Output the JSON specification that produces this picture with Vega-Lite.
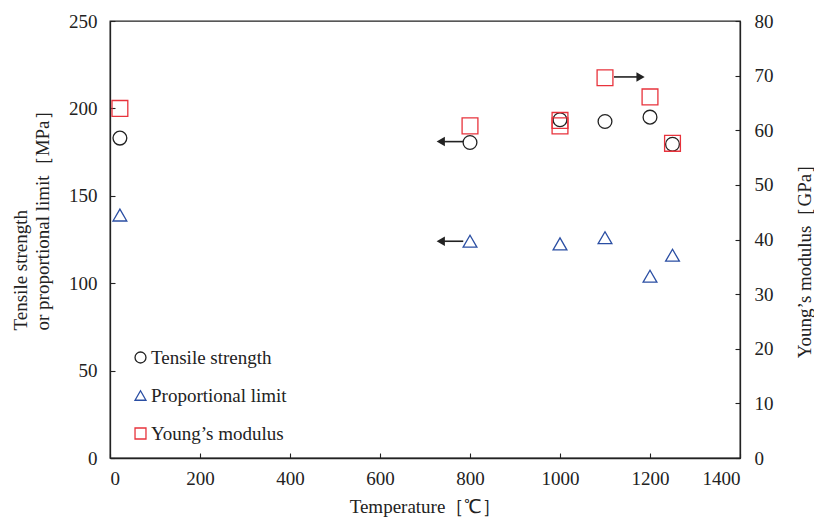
{
  "$schema": "https://vega.github.io/schema/vega-lite/v6.json",
  "width": 630,
  "height": 437,
  "autosize": {"type": "none"},
  "padding": {"left": 110, "top": 21, "right": 74, "bottom": 62},
  "background": "white",
  "config": {
    "view": {"stroke": "#222", "strokeWidth": 1.3},
    "font": "Liberation Serif",
    "axis": {
      "grid": false,
      "domainColor": "#222",
      "domainWidth": 1.3,
      "tickColor": "#222",
      "tickSize": -5,
      "tickWidth": 1.1,
      "labelFont": "Liberation Serif",
      "labelFontSize": 19,
      "labelColor": "#222",
      "titleFont": "Liberation Serif",
      "titleFontSize": 19,
      "titleFontWeight": "normal",
      "titleColor": "#222"
    },
    "legend": {
      "labelFont": "Liberation Serif",
      "labelFontSize": 19,
      "labelColor": "#222"
    }
  },
  "datasets": {
    "left": [
      {"t": 22, "v": 183, "s": "Tensile strength"},
      {"t": 800, "v": 180.5, "s": "Tensile strength"},
      {"t": 1000, "v": 193.5, "s": "Tensile strength"},
      {"t": 1100, "v": 192.5, "s": "Tensile strength"},
      {"t": 1200, "v": 195, "s": "Tensile strength"},
      {"t": 1250, "v": 179.5, "s": "Tensile strength"},
      {"t": 22, "v": 139, "s": "Proportional limit"},
      {"t": 800, "v": 124, "s": "Proportional limit"},
      {"t": 1000, "v": 122.5, "s": "Proportional limit"},
      {"t": 1100, "v": 126, "s": "Proportional limit"},
      {"t": 1200, "v": 104, "s": "Proportional limit"},
      {"t": 1250, "v": 116, "s": "Proportional limit"}
    ],
    "right": [
      {"t": 22, "v": 64, "s": "Young’s modulus"},
      {"t": 800, "v": 60.8, "s": "Young’s modulus"},
      {"t": 1000, "v": 61.8, "s": "Young’s modulus"},
      {"t": 1000, "v": 60.8, "s": "Young’s modulus"},
      {"t": 1100, "v": 69.6, "s": "Young’s modulus"},
      {"t": 1200, "v": 66.1, "s": "Young’s modulus"},
      {"t": 1250, "v": 57.6, "s": "Young’s modulus"}
    ],
    "arrows": [
      {"x1": 740, "x2": 785, "y": 181, "hx": 735, "dir": "left"},
      {"x1": 740, "x2": 785, "y": 124, "hx": 735, "dir": "left"},
      {"x1": 1120, "x2": 1174, "y": 218, "hx": 1179, "dir": "right"}
    ]
  },
  "layer": [
    {
      "layer": [
        {
          "data": {"name": "arrows"},
          "mark": {"type": "rule", "color": "#222", "strokeWidth": 1.6},
          "encoding": {
            "x": {"field": "x1", "type": "quantitative", "scale": {"domain": [0, 1400]}},
            "x2": {"field": "x2"},
            "y": {"field": "y", "type": "quantitative"}
          }
        },
        {
          "data": {"name": "arrows"},
          "transform": [{"filter": "datum.dir == 'left'"}],
          "mark": {"type": "point", "filled": true, "color": "#222", "opacity": 1, "size": 90, "shape": "triangle-left"},
          "encoding": {
            "x": {"field": "hx", "type": "quantitative"},
            "y": {"field": "y", "type": "quantitative"}
          }
        },
        {
          "data": {"name": "arrows"},
          "transform": [{"filter": "datum.dir == 'right'"}],
          "mark": {"type": "point", "filled": true, "color": "#222", "opacity": 1, "size": 90, "shape": "triangle-right"},
          "encoding": {
            "x": {"field": "hx", "type": "quantitative"},
            "y": {"field": "y", "type": "quantitative"}
          }
        },
        {
          "data": {"name": "left"},
          "mark": {"type": "point", "filled": false, "strokeWidth": 1.3, "size": 190, "opacity": 1},
          "encoding": {
            "x": {
              "field": "t", "type": "quantitative",
              "scale": {"domain": [0, 1400], "nice": false},
              "axis": {"values": [0, 200, 400, 600, 800, 1000, 1200, 1400], "format": "d", "title": "Temperature［℃］", "titlePadding": 9, "labelPadding": 16}
            },
            "y": {
              "field": "v", "type": "quantitative",
              "scale": {"domain": [0, 250], "nice": false},
              "axis": {"values": [0, 50, 100, 150, 200, 250], "title": ["Tensile strength", "or proportional limit［MPa］"], "titleAngle": 270, "titleAlign": "left", "titleBaseline": "top", "titleX": -99, "titleY": 309, "titleLineHeight": 22, "labelPadding": 18}
            },
            "shape": {
              "field": "s", "type": "nominal",
              "scale": {"domain": ["Tensile strength", "Proportional limit", "Young’s modulus"], "range": ["circle", "triangle-up", "square"]},
              "legend": {"title": null, "orient": "none", "legendX": 21, "legendY": 327, "padding": 0, "symbolSize": 120, "symbolStrokeWidth": 1.3, "rowPadding": 18, "labelOffset": 1}
            },
            "color": {
              "field": "s", "type": "nominal",
              "scale": {"domain": ["Tensile strength", "Proportional limit", "Young’s modulus"], "range": ["#222222", "#2a4ea3", "#e8333c"]},
              "legend": {"title": null, "orient": "none", "legendX": 21, "legendY": 327, "padding": 0, "symbolSize": 120, "symbolStrokeWidth": 1.3, "rowPadding": 18, "labelOffset": 1}
            }
          }
        }
      ]
    },
    {
      "data": {"name": "right"},
      "mark": {"type": "point", "filled": false, "strokeWidth": 1.3, "size": 250, "opacity": 1},
      "encoding": {
        "x": {"field": "t", "type": "quantitative"},
        "y": {
          "field": "v", "type": "quantitative",
          "scale": {"domain": [0, 80], "nice": false},
          "axis": {"orient": "right", "values": [0, 10, 20, 30, 40, 50, 60, 70, 80], "title": "Young’s modulus［GPa］", "titleAngle": 270, "titleAlign": "center", "titleBaseline": "middle", "titleX": 64, "titleY": 235, "labelPadding": 19}
        },
        "shape": {"field": "s", "type": "nominal"},
        "color": {"field": "s", "type": "nominal"}
      }
    }
  ],
  "resolve": {"scale": {"y": "independent"}}
}
